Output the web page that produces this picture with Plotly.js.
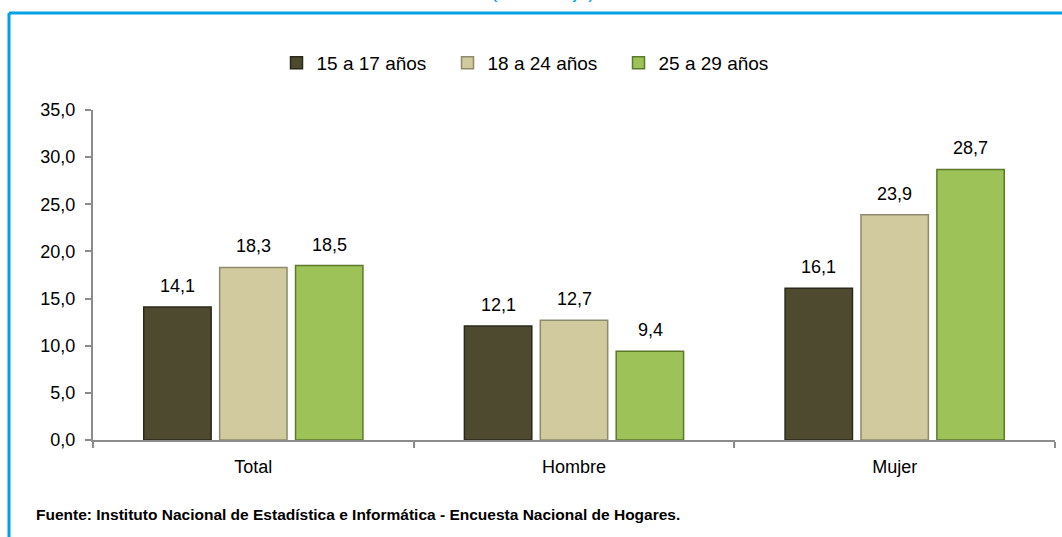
<!DOCTYPE html>
<html>
<head>
<meta charset="utf-8">
<script src="https://cdn.plot.ly/plotly-3.0.1.min.js"></script>
<style>
html,body{margin:0;padding:0;background:#fff;}
#chart{width:1062px;height:537px;}
</style>
</head>
<body>
<div id="chart"></div>
<script>
const categories = ["Total", "Hombre", "Mujer"];
const seriesNames = ["15 a 17 años", "18 a 24 años", "25 a 29 años"];
const values15a17 = [14.1, 12.1, 16.1];
const values18a24 = [18.3, 12.7, 23.9];
const values25a29 = [18.5, 9.4, 28.7];
const yTickValues = [0, 5, 10, 15, 20, 25, 30, 35];
const titleText = "(Porcentaje)";
const sourceText = "Fuente: Instituto Nacional de Estadística e Informática - Encuesta Nacional de Hogares.";

const allSeries = [values15a17, values18a24, values25a29];
const fills = ["#4e4a30", "#d0ca9e", "#9dc257"];
const edges = ["#2a2819", "#8e8a6c", "#5d7a2c"];

const traces = allSeries.map((vals, i) => ({
  type: "bar",
  name: seriesNames[i],
  x: categories,
  y: vals,
  marker: {color: fills[i], line: {color: edges[i], width: 1.5}},
  hoverinfo: "skip"
}));

const slotPx = 76;
const annotations = [];
allSeries.forEach((vals, i) => {
  vals.forEach((v, j) => {
    annotations.push({
      x: categories[j], y: v, xref: "x", yref: "y",
      text: v.toFixed(1).replace(".", ","),
      showarrow: false, yanchor: "bottom",
      xshift: (i - 1) * slotPx, yshift: 9,
      font: {family: "Liberation Sans, Arial, sans-serif", size: 18, color: "#000"}
    });
  });
});
annotations.push({
  xref: "paper", yref: "paper", x: (543 - 93) / 962, y: 1 + (110 - 4.5) / 330,
  xanchor: "center", yanchor: "bottom", showarrow: false, text: titleText,
  font: {family: "Liberation Sans, Arial, sans-serif", size: 19, color: "#00a0e3"}
});
annotations.push({
  xref: "paper", yref: "paper", x: (34 - 93) / 962, y: (440 - 514) / 330,
  xanchor: "left", yanchor: "middle", showarrow: false,
  text: "<b>" + sourceText + "</b>",
  font: {family: "Liberation Sans, Arial, sans-serif", size: 15.5, color: "#000"}
});

const layout = {
  width: 1062, height: 537,
  margin: {l: 93, r: 7, t: 110, b: 97, pad: 0},
  paper_bgcolor: "#fff", plot_bgcolor: "#fff",
  separators: ",.",
  barmode: "group", bargap: 0.29, bargroupgap: 0.112,
  font: {family: "Liberation Sans, Arial, sans-serif", size: 18, color: "#000"},
  showlegend: true,
  legend: {
    orientation: "h", x: (533 - 93) / 962, xanchor: "center",
    y: 1 + (110 - 63) / 330, yanchor: "middle",
    font: {size: 19, color: "#000"}, itemwidth: 30, tracegroupgap: 0,
    entrywidth: 126, entrywidthmode: "pixels"
  },
  xaxis: {
    type: "category", showline: true, linecolor: "#8c8c8c", linewidth: 2,
    ticks: "outside", tickson: "boundaries", ticklen: 6, tickcolor: "#8c8c8c", tickwidth: 2,
    showgrid: false, zeroline: false, fixedrange: true,
    ticklabelstandoff: 9,
    tickfont: {size: 18, color: "#000"}
  },
  yaxis: {
    range: [0, 35], tickvals: yTickValues, tickformat: ".1f",
    showline: true, linecolor: "#8c8c8c", linewidth: 2,
    ticks: "outside", ticklen: 6, tickcolor: "#8c8c8c", tickwidth: 2,
    showgrid: false, zeroline: false, fixedrange: true,
    ticklabelstandoff: 6,
    tickfont: {size: 18, color: "#000"}
  },
  shapes: [
    {type: "line", xref: "paper", yref: "paper",
     x0: (9 - 93) / 962, x1: (1070 - 93) / 962,
     y0: 1 + (110 - 13) / 330, y1: 1 + (110 - 13) / 330,
     line: {color: "#00a0e3", width: 3}},
    {type: "line", xref: "paper", yref: "paper",
     x0: (9 - 93) / 962, x1: (9 - 93) / 962,
     y0: 1 + (110 - 13) / 330, y1: (440 - 545) / 330,
     line: {color: "#00a0e3", width: 3}}
  ],
  annotations: annotations
};

Plotly.newPlot("chart", traces, layout, {displayModeBar: false, staticPlot: true});
</script>
</body>
</html>
